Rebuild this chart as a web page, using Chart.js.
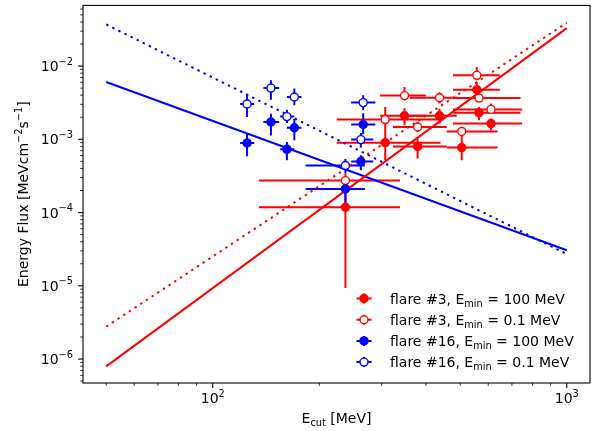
<!DOCTYPE html>
<html>
<head>
<meta charset="utf-8">
<script src="https://cdn.jsdelivr.net/npm/chart.js@4.4.0/dist/chart.umd.min.js"></script>
<style>
  html, body { margin: 0; padding: 0; background: #fff; }
  #wrap { width: 596px; height: 431px; }
</style>
</head>
<body>
<div id="wrap"><canvas id="fluxChart"></canvas></div>
<script>
// ---- values ----
// fitted power laws, given at the two ends (E_cut = 50 and 1000 MeV)
const fitEcut = [50, 1000];
const fitFlare3Emin100 = [7.95e-7, 0.033];
const fitFlare3Emin01 = [2.76e-6, 0.039];
const fitFlare16Emin100 = [6.05e-3, 3.06e-5];
const fitFlare16Emin01 = [0.037, 2.71e-5];

// flare #3
const flare3Ecut   = [237, 307, 348, 379, 437, 505, 557, 565, 611];
const flare3EcutLo = [135, 224, 297, 323, 360, 458, 477, 477, 477];
const flare3EcutHi = [338, 440, 400, 458, 489, 637, 647, 740, 748];
const flare3Flux100   = [1.18e-4, 9.0e-4, 2.1e-3, 8.0e-4, 2.1e-3, 7.7e-4, 4.76e-3, 2.31e-3, 1.64e-3];
const flare3Flux100Lo = [9.3e-6, 5.2e-4, 1.55e-3, 5.45e-4, 1.64e-3, 5.18e-4, 3.78e-3, 1.82e-3, 1.33e-3];
const flare3Flux100Hi = [2.27e-4, 1.3e-3, 2.65e-3, 1.02e-3, 2.62e-3, 1.07e-3, 6.05e-3, 2.76e-3, 1.91e-3];
const flare3Flux01    = [2.73e-4, 1.86e-3, 3.95e-3, 1.47e-3, 3.7e-3, 1.28e-3, 7.46e-3, 3.65e-3, 2.56e-3];
const flare3Flux01Lo  = [2.2e-4, 1.3e-3, 3.4e-3, 1.26e-3, 3.07e-3, 1.07e-3, 6.38e-3, 3.23e-3, 2.24e-3];
const flare3Flux01Hi  = [3.4e-4, 2.76e-3, 5.17e-3, 1.72e-3, 4.4e-3, 1.47e-3, 9.7e-3, 4.2e-3, 3.07e-3];

// flare #16
const flare16Ecut   = [125, 146, 162, 170, 237, 262, 266];
const flare16EcutLo = [119.5, 139, 155, 162, 183, 246, 246];
const flare16EcutHi = [131, 154, 170, 178, 269, 284, 288];
const flare16Flux100   = [8.9e-4, 1.72e-3, 7.3e-4, 1.44e-3, 2.1e-4, 4.97e-4, 1.59e-3];
const flare16Flux100Lo = [5.86e-4, 1.13e-3, 5.18e-4, 9.7e-4, 1.15e-4, 3.78e-4, 1.17e-3];
const flare16Flux100Hi = [1.2e-3, 2.24e-3, 9.2e-4, 1.91e-3, 3.05e-4, 6.05e-4, 2.26e-3];
const flare16Flux01    = [3.03e-3, 5.0e-3, 2.04e-3, 3.78e-3, 4.38e-4, 9.9e-4, 3.17e-3];
const flare16Flux01Lo  = [2.01e-3, 3.48e-3, 1.67e-3, 2.91e-3, 3.4e-4, 7.7e-4, 2.49e-3];
const flare16Flux01Hi  = [4.11e-3, 6.38e-3, 2.54e-3, 4.92e-3, 5.39e-4, 1.22e-3, 3.98e-3];

// axes
const xLimits = [43.0, 1163];
const yLimits = [4.71e-7, 0.0673];
const xMajorTicks = [100, 1000];
const xTickLabels = [['10', '2'], ['10', '3']];
const xMinorTicks = [50, 60, 70, 80, 90, 200, 300, 400, 500, 600, 700, 800, 900];
const yMajorTicks = [1e-6, 1e-5, 1e-4, 1e-3, 1e-2];
const yTickLabels = [['10', '\u22126'], ['10', '\u22125'], ['10', '\u22124'], ['10', '\u22123'], ['10', '\u22122']];
const yDecades = [1e-7, 1e-6, 1e-5, 1e-4, 1e-3, 1e-2];

const legendLabels = [
  ['flare #3, E', 'min', ' = 100 MeV'],
  ['flare #3, E', 'min', ' = 0.1 MeV'],
  ['flare #16, E', 'min', ' = 100 MeV'],
  ['flare #16, E', 'min', ' = 0.1 MeV']
];

const RED = '#ff0000';
const BLUE = '#0000ff';
const FONT = '"DejaVu Sans", sans-serif';

function makePoints(xs, xlo, xhi, ys, ylo, yhi) {
  return xs.map((x, i) => ({ x: x, y: ys[i], xMin: xlo[i], xMax: xhi[i], yMin: ylo[i], yMax: yhi[i] }));
}

function fitLine(ys) {
  return fitEcut.map((x, i) => ({ x: x, y: ys[i] }));
}

// mixed text with sub/superscripts; parts = [[text, kind], ...]
function drawRich(ctx, parts, x, y, align, size) {
  size = size || 14;
  const small = size * 0.7;
  let total = 0;
  const widths = parts.map(p => {
    ctx.font = (p[1] === 'n' ? size : small) + 'px ' + FONT;
    const w = ctx.measureText(p[0]).width;
    total += w;
    return w;
  });
  let cx = x;
  if (align === 'center') cx = x - total / 2;
  if (align === 'right') cx = x - total;
  ctx.textAlign = 'left';
  ctx.textBaseline = 'alphabetic';
  parts.forEach((p, i) => {
    ctx.font = (p[1] === 'n' ? size : small) + 'px ' + FONT;
    let dy = 0;
    if (p[1] === 'sup') dy = -size * 0.45;
    if (p[1] === 'sub') dy = size * 0.22;
    ctx.fillText(p[0], cx, y + dy);
    cx += widths[i];
  });
}

// error bars go under everything else
const errorBarPlugin = {
  id: 'errorBars',
  beforeDatasetsDraw(chart) {
    const ctx = chart.ctx, xs = chart.scales.x, ys = chart.scales.y, area = chart.chartArea;
    ctx.save();
    ctx.beginPath();
    ctx.rect(area.left, area.top, area.right - area.left, area.bottom - area.top);
    ctx.clip();
    chart.data.datasets.forEach(ds => {
      if (!ds.errorBars) return;
      ctx.strokeStyle = ds.borderColor;
      ctx.lineWidth = 2;
      ds.data.forEach(p => {
        const px = xs.getPixelForValue(p.x), py = ys.getPixelForValue(p.y);
        ctx.beginPath();
        ctx.moveTo(xs.getPixelForValue(p.xMin), py);
        ctx.lineTo(xs.getPixelForValue(p.xMax), py);
        ctx.moveTo(px, ys.getPixelForValue(p.yMin));
        ctx.lineTo(px, ys.getPixelForValue(p.yMax));
        ctx.stroke();
      });
    });
    ctx.restore();
  }
};

// frame, ticks, labels and legend in matplotlib style
const decorPlugin = {
  id: 'decor',
  afterDraw(chart) {
    const ctx = chart.ctx, xs = chart.scales.x, ys = chart.scales.y, a = chart.chartArea;
    ctx.save();
    ctx.strokeStyle = '#000';
    ctx.fillStyle = '#000';

    // spines
    ctx.lineWidth = 1.1;
    ctx.strokeRect(a.left, a.top, a.right - a.left, a.bottom - a.top);

    // x ticks
    xMajorTicks.concat(xMinorTicks).forEach(v => {
      const major = xMajorTicks.includes(v);
      const px = xs.getPixelForValue(v);
      ctx.lineWidth = major ? 1.1 : 0.8;
      ctx.beginPath();
      ctx.moveTo(px, a.bottom);
      ctx.lineTo(px, a.bottom + (major ? 4.9 : 2.8));
      ctx.stroke();
    });
    xMajorTicks.forEach((v, i) => {
      drawRich(ctx, [[xTickLabels[i][0], 'n'], [xTickLabels[i][1], 'sup']], xs.getPixelForValue(v), a.bottom + 20, 'center');
    });

    // y ticks
    const yMinor = [];
    yDecades.forEach(d => {
      for (let m = 2; m <= 9; m++) {
        const v = d * m;
        if (v >= yLimits[0] && v <= yLimits[1]) yMinor.push(v);
      }
    });
    yMajorTicks.concat(yMinor).forEach(v => {
      const major = yMajorTicks.includes(v);
      const py = ys.getPixelForValue(v);
      ctx.lineWidth = major ? 1.1 : 0.8;
      ctx.beginPath();
      ctx.moveTo(a.left, py);
      ctx.lineTo(a.left - (major ? 4.9 : 2.8), py);
      ctx.stroke();
    });
    yMajorTicks.forEach((v, i) => {
      drawRich(ctx, [[yTickLabels[i][0], 'n'], [yTickLabels[i][1], 'sup']], a.left - 10, ys.getPixelForValue(v) + 5, 'right');
    });

    // axis titles
    drawRich(ctx, [['E', 'n'], ['cut', 'sub'], [' [MeV]', 'n']], (a.left + a.right) / 2, 423, 'center');
    ctx.save();
    ctx.translate(28, (a.top + a.bottom) / 2);
    ctx.rotate(-Math.PI / 2);
    drawRich(ctx, [['Energy Flux [MeVcm', 'n'], ['\u22122', 'sup'], ['s', 'n'], ['\u22121', 'sup'], [']', 'n']], 0, 0, 'center');
    ctx.restore();

    // legend (no frame, as in the figure)
    const legendSets = chart.data.datasets.filter(ds => ds.errorBars);
    legendSets.forEach((ds, i) => {
      const cy = 298.5 + i * 21.2;
      const mx = 364;
      ctx.strokeStyle = ds.borderColor;
      ctx.lineWidth = 2;
      ctx.beginPath();
      ctx.moveTo(mx - 7.5, cy); ctx.lineTo(mx + 7.5, cy);
      ctx.moveTo(mx, cy - 5); ctx.lineTo(mx, cy + 5);
      ctx.stroke();
      ctx.beginPath();
      ctx.arc(mx, cy, 4, 0, Math.PI * 2);
      ctx.fillStyle = ds.backgroundColor;
      ctx.fill();
      ctx.lineWidth = 1.4;
      ctx.stroke();
      ctx.fillStyle = '#000';
      const lab = legendLabels[i];
      drawRich(ctx, [[lab[0], 'n'], [lab[1], 'sub'], [lab[2], 'n']], 390, cy + 5, 'left');
    });
    ctx.restore();
  }
};

function pointSet(label, data, color, filled, order) {
  return {
    label: label,
    data: data,
    errorBars: true,
    borderColor: color,
    backgroundColor: filled ? color : '#ffffff',
    pointRadius: 4,
    pointBorderWidth: 1.4,
    pointHoverRadius: 4,
    showLine: false,
    order: order
  };
}

function lineSet(data, color, dotted) {
  return {
    data: data,
    borderColor: color,
    borderWidth: 2,
    borderDash: dotted ? [2.4, 4.4] : [],
    pointRadius: 0,
    showLine: true,
    fill: false,
    order: 10
  };
}

const ctx = document.getElementById('fluxChart').getContext('2d');
new Chart(ctx, {
  type: 'scatter',
  data: {
    datasets: [
      pointSet('flare #3, Emin = 100 MeV', makePoints(flare3Ecut, flare3EcutLo, flare3EcutHi, flare3Flux100, flare3Flux100Lo, flare3Flux100Hi), RED, true, 4),
      pointSet('flare #3, Emin = 0.1 MeV', makePoints(flare3Ecut, flare3EcutLo, flare3EcutHi, flare3Flux01, flare3Flux01Lo, flare3Flux01Hi), RED, false, 3),
      pointSet('flare #16, Emin = 100 MeV', makePoints(flare16Ecut, flare16EcutLo, flare16EcutHi, flare16Flux100, flare16Flux100Lo, flare16Flux100Hi), BLUE, true, 2),
      pointSet('flare #16, Emin = 0.1 MeV', makePoints(flare16Ecut, flare16EcutLo, flare16EcutHi, flare16Flux01, flare16Flux01Lo, flare16Flux01Hi), BLUE, false, 1),
      lineSet(fitLine(fitFlare3Emin100), RED, false),
      lineSet(fitLine(fitFlare3Emin01), RED, true),
      lineSet(fitLine(fitFlare16Emin100), BLUE, false),
      lineSet(fitLine(fitFlare16Emin01), BLUE, true)
    ]
  },
  options: {
    responsive: true,
    maintainAspectRatio: false,
    animation: false,
    layout: { padding: { left: 83, top: 5, right: 6, bottom: 48 } },
    plugins: { legend: { display: false }, tooltip: { enabled: false } },
    scales: {
      x: { type: 'logarithmic', min: xLimits[0], max: xLimits[1], display: false },
      y: { type: 'logarithmic', min: yLimits[0], max: yLimits[1], display: false }
    }
  },
  plugins: [errorBarPlugin, decorPlugin]
});
</script>
</body>
</html>
